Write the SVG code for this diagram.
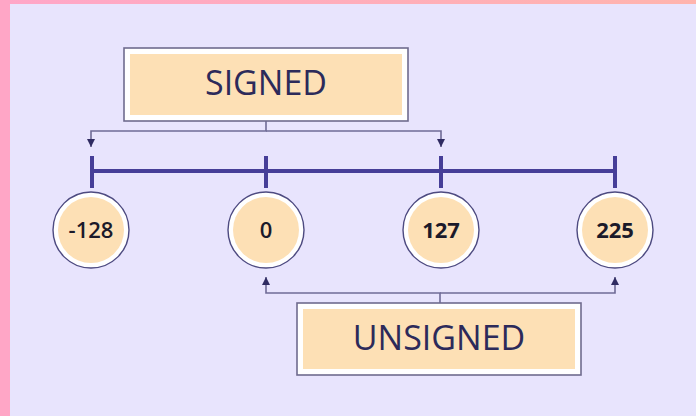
<svg xmlns="http://www.w3.org/2000/svg" width="696" height="416" viewBox="0 0 696 416">
  <defs>
    <linearGradient id="topBand" x1="0" y1="0" x2="1" y2="0">
      <stop offset="0" stop-color="#ffa6c8"/>
      <stop offset="1" stop-color="#ffb4ad"/>
    </linearGradient>
    <marker id="tip" viewBox="0 0 8 8" refX="8" refY="4" markerWidth="8" markerHeight="8" markerUnits="userSpaceOnUse" orient="auto">
      <path d="M0,0 L8,4 L0,8 Z" fill="#2f2b62"/>
    </marker>
    <style>
      .conn { fill: none; stroke: #6f6b96; stroke-width: 1.6; }
      .axis { fill: none; stroke: #463e98; stroke-width: 4; stroke-linecap: butt; }
      .box-out { fill: #ffffff; stroke: #6f6b8e; stroke-width: 1.6; }
      .box-in { fill: #fde0b5; }
      .label { font-family: "Open Sans", "Noto Sans", sans-serif; font-size: 34px; fill: #2c2a5a; text-anchor: middle; }
      .ring { fill: #ffffff; stroke: #4d4a80; stroke-width: 1.4; }
      .core { fill: #fde0b5; }
      .num { font-family: "Open Sans", "Noto Sans", sans-serif; font-size: 22px; fill: #1b1a2a; text-anchor: middle; }
    </style>
  </defs>

  <!-- page background with pink frame -->
  <rect x="0" y="0" width="696" height="416" fill="#e8e4fd"/>
  <rect x="0" y="0" width="696" height="4" fill="url(#topBand)"/>
  <rect x="0" y="0" width="10" height="416" fill="#ffa6c6"/>

  <!-- connectors -->
  <g id="connectors">
    <path class="conn" d="M266,121 V131 H91 V147" marker-end="url(#tip)"/>
    <path class="conn" d="M266,131 H441 V147" marker-end="url(#tip)"/>
    <path class="conn" d="M440,303 V293 H266 V277" marker-end="url(#tip)"/>
    <path class="conn" d="M440,293 H615 V277" marker-end="url(#tip)"/>
    <!-- number line with ticks -->
    <path class="axis" d="M92,171 H615"/>
    <path class="axis" d="M92,156 V188 M266,156 V188 M441,156 V188 M615,156 V188"/>
  </g>

  <g id="signed">
    <rect class="box-out" x="124" y="48" width="284" height="73"/>
    <rect class="box-in" x="130" y="54" width="272" height="61"/>
    <text class="label" x="266" y="95">SIGNED</text>
  </g>

  <g id="unsigned">
    <rect class="box-out" x="297" y="303" width="284" height="72"/>
    <rect class="box-in" x="303" y="309" width="272" height="60"/>
    <text class="label" x="439" y="350">UNSIGNED</text>
  </g>

  <g id="n-128">
    <circle class="ring" cx="91" cy="230" r="38"/>
    <circle class="core" cx="91" cy="230" r="33"/>
    <text class="num" x="91" y="238" font-weight="600">-128</text>
  </g>

  <g id="n0">
    <circle class="ring" cx="266" cy="230" r="38"/>
    <circle class="core" cx="266" cy="230" r="33"/>
    <text class="num" x="266" y="238" font-weight="600">0</text>
  </g>

  <g id="n127">
    <circle class="ring" cx="441" cy="230" r="38"/>
    <circle class="core" cx="441" cy="230" r="33"/>
    <text class="num" x="441" y="238" font-weight="700">127</text>
  </g>

  <g id="n225">
    <circle class="ring" cx="615" cy="230" r="38"/>
    <circle class="core" cx="615" cy="230" r="33"/>
    <text class="num" x="615" y="238" font-weight="700">225</text>
  </g>
</svg>
